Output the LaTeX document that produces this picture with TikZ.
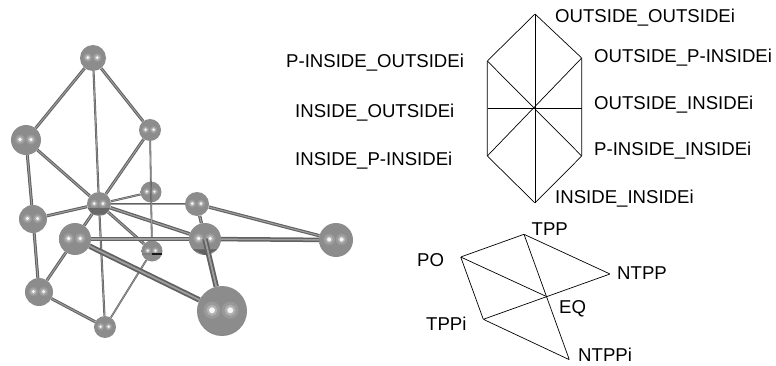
\documentclass[tikz,border=0pt]{standalone}
\usepackage{fontspec}
\setmainfont{Liberation Sans}
\usetikzlibrary{backgrounds}
\definecolor{ballmid}{gray}{0.55}
\definecolor{ballrim}{gray}{0.27}
\pgfdeclareradialshading{ballshade}{\pgfpoint{0bp}{3bp}}{
  color(0bp)=(ballmid); color(24bp)=(ballmid);
  color(50bp)=(ballrim); color(56bp)=(ballrim)}
\tikzset{
  ball/.style={circle,inner sep=0pt,minimum size=2*#1,shading=ballshade,
    path picture={
      \foreach \dx in {-.4,.33} {
        \fill[white,opacity=.12] ([shift={(\dx*#1,-.03*#1)}]path picture bounding box.center) circle[radius=.34*#1];
        \fill[white,opacity=.25] ([shift={(\dx*#1,-.03*#1)}]path picture bounding box.center) circle[radius=.22*#1];
        \fill[white,opacity=.9] ([shift={(\dx*#1,-.03*#1)}]path picture bounding box.center) circle[radius=.12*#1];
      }
    }},
  rod/.style={draw=black!62,double=black!38,line width=#1,double distance=#1},
  rod/.default=1pt,
  tag/.style={inner sep=0pt,anchor=base west,font=\fontsize{18.6}{20}\selectfont},
  vtx/.style={inner sep=0pt,minimum size=0pt},
  edge/.style={draw=black,line width=.7pt}
}
\begin{document}
\begin{tikzpicture}[x=1pt,y=-1pt]
  \useasboundingbox (0,0) rectangle (776,366);

  % molecule
  \node[ball=13] (top) at (93,58) {};
  \node[ball=15] (left) at (26,140) {};
  \node[ball=11] (upper) at (150,130) {};
  \node[ball=10.5] (backa) at (151,192) {};
  \node[ball=10.5] (backb) at (152,251) {};
  \node[ball=12] (mid) at (99,204) {};
  \node[ball=12] (rear) at (197,204) {};
  \node[ball=14] (side) at (33,219) {};
  \node[ball=14] (low) at (39,292) {};
  \node[ball=11] (bottom) at (105,327) {};
  \node[ball=16] (fronta) at (75,239) {};
  \node[ball=16] (frontb) at (205,239) {};
  \node[ball=17] (far) at (336,240) {};
  \node[ball=25] (big) at (222,311) {};
  \begin{scope}[on background layer]
    \draw[rod] (top) -- (left);
    \draw[rod=.7pt] (top) -- (mid);
    \draw[rod] (top) -- (upper);
    \draw[rod] (left) -- (mid);
    \draw[rod] (left) -- (side);
    \draw[rod] (upper) -- (mid);
    \draw[rod=.7pt] (mid) -- (backa);
    \draw[rod=.8pt] (mid) -- (rear);
    \draw[rod] (mid) -- (side);
    \draw[rod] (mid) -- (fronta);
    \draw[rod=1.2pt] (mid) -- (frontb);
    \draw[rod] (mid) -- (backb);
    \draw[rod=.7pt] (mid) -- (bottom);
    \draw[rod] (side) -- (low);
    \draw[rod] (low) -- (bottom);
    \draw[rod] (low) -- (fronta);
    \draw[rod=.6pt] (backb) -- (bottom);
    \draw[rod=1.1pt] (rear) -- (far);
    \draw[rod=1.1pt] (rear) -- (frontb);
  \end{scope}
  % dark marks on the balls
  \fill[black,opacity=.25] (mid.200) -- (mid.240) -- (mid.300) -- (mid.340) -- cycle;
  \fill[black,opacity=.3] (frontb.220) -- (frontb.270) -- (frontb.320) -- cycle;
  \draw[black!50,line width=2pt] (backb.-15) -- (backb.195);
  \draw[black!90,line width=2pt] (backb.-15) -- ++(-10,0);
  \draw[rod=.6pt] (upper) -- (backb);
  \draw[rod=1.5pt] (fronta) -- (frontb);
  \draw[rod=1.5pt] (frontb) -- (far);
  \draw[rod=1.8pt] (fronta) -- (big);
  \draw[rod=1.8pt] (frontb.center) -- (big);

  % upper lattice
  \node[vtx] (oo) at (535,14) {};
  \node[vtx] (op) at (581.7,58) {};
  \node[vtx] (oi) at (581.7,108) {};
  \node[vtx] (pi) at (581.7,156) {};
  \node[vtx] (ii) at (535,203) {};
  \node[vtx] (ip) at (487.3,156) {};
  \node[vtx] (io) at (487.3,108) {};
  \node[vtx] (po) at (487.3,61) {};
  \node[vtx] (cen) at (534,108) {};
  \draw[edge] (oo) -- (op) -- (oi) -- (pi) -- (ii) -- (ip) -- (io) -- (po) -- (oo);
  \draw[edge] (oo) -- (ii);
  \draw[edge] (po) -- (pi);
  \draw[edge] (ip) -- (op);
  \draw[edge] (io) -- (oi);
  \node[tag] (ooname) at (555,22.7) {OUTSIDE\_OUTSIDEi};
  \node[tag] (opname) at (594,62.3) {OUTSIDE\_P-INSIDEi};
  \node[tag] (oiname) at (594,109.3) {OUTSIDE\_INSIDEi};
  \node[tag] (piname) at (594,156) {P-INSIDE\_INSIDEi};
  \node[tag] (iiname) at (555,204) {INSIDE\_INSIDEi};
  \node[tag] (poname) at (286,67.3) {P-INSIDE\_OUTSIDEi};
  \node[tag] (ioname) at (295,117.3) {INSIDE\_OUTSIDEi};
  \node[tag] (ipname) at (295,166) {INSIDE\_P-INSIDEi};

  % lower lattice
  \node[vtx] (PO) at (460.7,257) {};
  \node[vtx] (TPP) at (524,234.3) {};
  \node[vtx] (NTPP) at (610,274) {};
  \node[vtx] (EQ) at (546,296.3) {};
  \node[vtx] (TPPi) at (483.3,319.3) {};
  \node[vtx] (NTPPi) at (569.3,359.7) {};
  \draw[edge] (PO) -- (TPP) -- (NTPP) -- (TPPi) -- (NTPPi) -- (TPP);
  \draw[edge] (PO) -- (TPPi);
  \draw[edge] (PO) -- (EQ);
  \node[tag] (TPPname) at (531.5,235) {TPP};
  \node[tag] (POname) at (417,266) {PO};
  \node[tag] (NTPPname) at (617,279.3) {NTPP};
  \node[tag] (EQname) at (559,313.3) {EQ};
  \node[tag] (TPPiname) at (426,330.7) {TPPi};
  \node[tag] (NTPPiname) at (578,361.5) {NTPPi};
\end{tikzpicture}
\end{document}
